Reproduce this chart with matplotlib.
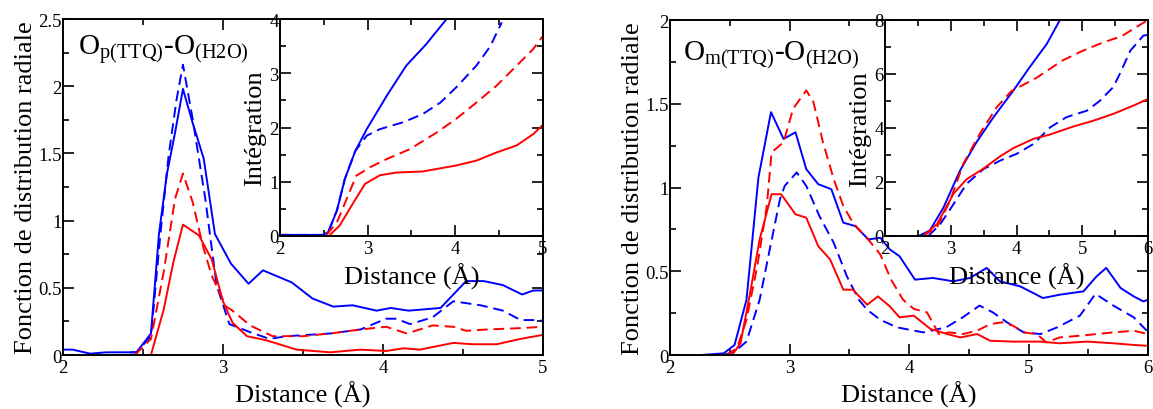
import matplotlib
matplotlib.use("Agg")
import matplotlib.pyplot as plt
from matplotlib.ticker import MultipleLocator, FormatStrFormatter

plt.rcParams['font.family'] = ['Liberation Serif', 'DejaVu Serif']
plt.rcParams['mathtext.fontset'] = 'custom'
plt.rcParams['mathtext.rm'] = 'Liberation Serif'
plt.rcParams['mathtext.it'] = 'Liberation Serif:italic'

BLUE = '#0000ff'
RED = '#ff0000'

# --- left panel: O_p(TTQ) - O_(H2O), radial distribution ---
x_L_bs = [2.0, 2.06, 2.17, 2.27, 2.42, 2.46, 2.55, 2.6, 2.65, 2.7, 2.75, 2.81, 2.88, 2.95, 3.05, 3.16,
          3.25, 3.43, 3.56, 3.69, 3.81, 3.96, 4.05, 4.16, 4.36, 4.52, 4.63, 4.75, 4.87, 4.94, 5.0]
y_L_bs = [0.04, 0.04, 0.01, 0.02, 0.02, 0.02, 0.16, 0.9, 1.35, 1.65, 1.98, 1.73, 1.46, 0.9, 0.68, 0.53,
          0.63, 0.54, 0.42, 0.36, 0.37, 0.33, 0.35, 0.33, 0.35, 0.55, 0.55, 0.52, 0.45, 0.48, 0.48]
x_L_bd = [2.42, 2.46, 2.55, 2.61, 2.66, 2.71, 2.75, 2.81, 2.89, 2.96, 3.04, 3.17, 3.29, 3.40, 3.67,
          3.86, 4.02, 4.08, 4.17, 4.31, 4.44, 4.61, 4.75, 4.86, 4.98, 5.0]
y_L_bd = [0.02, 0.02, 0.14, 0.91, 1.48, 1.9, 2.16, 1.76, 1.16, 0.52, 0.23, 0.17, 0.12, 0.14, 0.16,
          0.19, 0.27, 0.27, 0.23, 0.28, 0.40, 0.37, 0.33, 0.26, 0.26, 0.25]
x_L_rd = [2.45, 2.55, 2.63, 2.70, 2.75, 2.81, 2.875, 2.93, 3.02, 3.06, 3.17, 3.31, 3.50, 3.67, 3.86,
          4.02, 4.15, 4.31, 4.44, 4.52, 4.65, 4.86, 5.0]
y_L_rd = [0.0, 0.12, 0.62, 1.16, 1.35, 1.14, 0.81, 0.59, 0.36, 0.33, 0.22, 0.14, 0.14, 0.16, 0.19,
          0.21, 0.16, 0.22, 0.21, 0.18, 0.19, 0.20, 0.21]
x_L_rs = [2.55, 2.63, 2.69, 2.75, 2.85, 2.93, 3.0, 3.06, 3.15, 3.27, 3.46, 3.67, 3.86, 4.02, 4.13,
          4.23, 4.44, 4.56, 4.71, 4.86, 5.0]
y_L_rs = [0.0, 0.34, 0.69, 0.97, 0.89, 0.71, 0.4, 0.24, 0.14, 0.11, 0.04, 0.02, 0.04, 0.03, 0.05,
          0.04, 0.09, 0.08, 0.08, 0.12, 0.15]

# left inset: integration
xi_L_bs = [2.0, 2.49, 2.55, 2.65, 2.74, 2.86, 2.99, 3.22, 3.44, 3.67, 3.9]
yi_L_bs = [0.02, 0.02, 0.07, 0.47, 1.05, 1.57, 1.97, 2.59, 3.14, 3.54, 4.0]
xi_L_bd = [2.0, 2.49, 2.55, 2.65, 2.74, 2.86, 2.99, 3.14, 3.41, 3.63, 3.83, 4.01, 4.24, 4.4, 4.53]
yi_L_bd = [0.02, 0.02, 0.07, 0.47, 1.05, 1.57, 1.85, 1.97, 2.10, 2.25, 2.46, 2.74, 3.14, 3.5, 3.94]
xi_L_rd = [2.53, 2.65, 2.76, 2.87, 3.03, 3.22, 3.48, 3.79, 4.01, 4.24, 4.47, 4.7, 4.89, 5.0]
yi_L_rd = [0.02, 0.25, 0.68, 1.11, 1.27, 1.42, 1.6, 1.91, 2.16, 2.46, 2.77, 3.14, 3.45, 3.69]
xi_L_rs = [2.57, 2.68, 2.84, 2.97, 3.14, 3.33, 3.63, 4.01, 4.24, 4.47, 4.7, 4.89, 5.0]
yi_L_rs = [0.02, 0.19, 0.62, 0.96, 1.12, 1.17, 1.19, 1.30, 1.39, 1.54, 1.67, 1.88, 2.05]

# --- right panel: O_m(TTQ) - O_(H2O) ---
x_R_bs = [2.265, 2.45, 2.54, 2.64, 2.74, 2.845, 2.95, 3.05, 3.14, 3.24, 3.35, 3.45, 3.55, 3.66, 3.76,
          3.84, 3.92, 4.05, 4.2, 4.37, 4.51, 4.65, 4.76, 4.93, 5.04, 5.12, 5.26, 5.46, 5.57, 5.65,
          5.77, 5.88, 5.96, 6.0]
y_R_bs = [0.0, 0.01, 0.06, 0.33, 1.06, 1.45, 1.29, 1.33, 1.11, 1.02, 0.99, 0.79, 0.77, 0.69, 0.70,
          0.63, 0.59, 0.45, 0.46, 0.44, 0.46, 0.52, 0.44, 0.41, 0.37, 0.34, 0.36, 0.38, 0.47, 0.52,
          0.40, 0.35, 0.32, 0.33]
x_R_bd = [2.45, 2.54, 2.64, 2.75, 2.84, 2.92, 2.96, 3.06, 3.14, 3.25, 3.37, 3.48, 3.58, 3.65, 3.76,
          3.9, 4.12, 4.31, 4.45, 4.59, 4.7, 4.82, 4.96, 5.1, 5.24, 5.43, 5.56, 5.71, 5.88, 5.99]
y_R_bd = [0.0, 0.02, 0.08, 0.33, 0.65, 0.93, 1.01, 1.09, 1.01, 0.83, 0.67, 0.47, 0.33, 0.27, 0.21,
          0.165, 0.135, 0.165, 0.225, 0.295, 0.255, 0.195, 0.135, 0.125, 0.165, 0.235, 0.365, 0.295,
          0.225, 0.145]
x_R_rd = [2.47, 2.56, 2.64, 2.73, 2.81, 2.85, 2.95, 3.03, 3.14, 3.2, 3.28, 3.37, 3.45, 3.53, 3.67,
          3.76, 3.85, 3.95, 4.04, 4.15, 4.25, 4.34, 4.45, 4.57, 4.68, 4.78, 4.87, 4.96, 5.07, 5.15,
          5.26, 5.43, 5.71, 5.88, 6.0]
y_R_rd = [0.0, 0.04, 0.21, 0.53, 0.89, 1.21, 1.27, 1.47, 1.58, 1.51, 1.27, 1.05, 0.89, 0.79, 0.68,
          0.6, 0.45, 0.33, 0.275, 0.255, 0.125, 0.135, 0.125, 0.145, 0.185, 0.195, 0.175, 0.135,
          0.125, 0.075, 0.105, 0.115, 0.135, 0.145, 0.125]
x_R_rs = [2.52, 2.59, 2.67, 2.75, 2.85, 2.93, 3.05, 3.14, 3.24, 3.34, 3.45, 3.53, 3.65, 3.74, 3.84,
          3.92, 4.04, 4.18, 4.32, 4.43, 4.57, 4.68, 4.87, 5.1, 5.26, 5.49, 5.71, 5.88, 6.0]
y_R_rs = [0.0, 0.07, 0.37, 0.69, 0.96, 0.96, 0.84, 0.82, 0.65, 0.57, 0.39, 0.39, 0.3, 0.35, 0.29,
          0.225, 0.235, 0.155, 0.125, 0.105, 0.125, 0.085, 0.08, 0.08, 0.07, 0.08, 0.07, 0.06, 0.055]

# right inset: integration
xi_R_bs = [2.51, 2.68, 2.89, 3.14, 3.39, 3.65, 3.95, 4.2, 4.46, 4.66]
yi_R_bs = [0.0, 0.2, 1.06, 2.42, 3.47, 4.4, 5.38, 6.25, 7.11, 8.0]
xi_R_rd = [2.58, 2.79, 2.99, 3.19, 3.44, 3.7, 3.92, 4.3, 4.7, 5.0, 5.3, 5.6, 6.0]
yi_R_rd = [0.0, 0.32, 1.31, 2.67, 3.78, 4.77, 5.36, 5.85, 6.5, 6.85, 7.15, 7.4, 8.0]
xi_R_rs = [2.58, 2.79, 3.04, 3.24, 3.5, 3.75, 3.95, 4.26, 4.5, 4.86, 5.17, 5.47, 5.78, 6.0]
yi_R_rs = [0.0, 0.44, 1.56, 2.1, 2.5, 2.95, 3.25, 3.6, 3.75, 4.05, 4.27, 4.52, 4.83, 5.07]
xi_R_bd = [2.66, 2.84, 3.01, 3.24, 3.5, 3.75, 4.0, 4.26, 4.51, 4.76, 5.07, 5.27, 5.47, 5.57, 5.73,
           5.93, 6.0]
yi_R_bd = [0.0, 0.44, 1.06, 1.93, 2.48, 2.79, 3.04, 3.41, 4.02, 4.4, 4.64, 5.01, 5.51, 6.0, 6.86,
           7.42, 7.45]

LW = 1.4
TICK_FS = 13.5
LABEL_FS = 19


def style(ax, xlim, ylim, xmaj, xmin, ymaj, ymin):
    ax.set_xlim(*xlim)
    ax.set_ylim(*ylim)
    ax.xaxis.set_major_locator(MultipleLocator(xmaj))
    ax.xaxis.set_minor_locator(MultipleLocator(xmin))
    ax.yaxis.set_major_locator(MultipleLocator(ymaj))
    ax.yaxis.set_minor_locator(MultipleLocator(ymin))
    ax.xaxis.set_major_formatter(FormatStrFormatter('%g'))
    ax.yaxis.set_major_formatter(FormatStrFormatter('%g'))
    ax.tick_params(which='both', direction='in', top=True, right=True, width=1.2)
    ax.tick_params(which='major', length=8, labelsize=TICK_FS)
    ax.tick_params(axis='y', which='major', pad=1)
    ax.tick_params(axis='x', which='major', pad=3)
    ax.tick_params(which='minor', length=4)
    for s in ax.spines.values():
        s.set_linewidth(1.4)


def draw(ax, series):
    for x, y, c, ls in series:
        if ls == '--':
            ax.plot(x, y, color=c, lw=LW, dashes=(5.5, 3))
        else:
            ax.plot(x, y, color=c, lw=LW)


fig = plt.figure(figsize=(11.53, 4.10), dpi=100)

axL = fig.add_axes([0.0546, 0.1317, 0.4163, 0.8195])
draw(axL, [(x_L_bs, y_L_bs, BLUE, '-'), (x_L_bd, y_L_bd, BLUE, '--'),
           (x_L_rd, y_L_rd, RED, '--'), (x_L_rs, y_L_rs, RED, '-')])
style(axL, (2, 5), (0, 2.5), 1, 0.5, 0.5, 0.25)
axL.set_xlabel('Distance (Å)', fontsize=LABEL_FS, labelpad=3)
axL.set_ylabel('Fonction de distribution radiale', fontsize=LABEL_FS, labelpad=1)
axL.text(0.031, 0.896, r'$\mathrm{O_{p(TTQ)}}$-$\mathrm{O_{(H2O)}}$', transform=axL.transAxes,
         fontsize=21, va='baseline', ha='left')

axLi = fig.add_axes([0.2428, 0.422, 0.2281, 0.529])
draw(axLi, [(xi_L_bs, yi_L_bs, BLUE, '-'), (xi_L_bd, yi_L_bd, BLUE, '--'),
            (xi_L_rd, yi_L_rd, RED, '--'), (xi_L_rs, yi_L_rs, RED, '-')])
style(axLi, (2, 5), (0, 4), 1, 0.5, 1, 0.5)
axLi.set_xlabel('Distance (Å)', fontsize=LABEL_FS, labelpad=4)
axLi.set_ylabel('Intégration', fontsize=LABEL_FS, labelpad=2)

axR = fig.add_axes([0.5811, 0.1317, 0.4146, 0.817])
draw(axR, [(x_R_bs, y_R_bs, BLUE, '-'), (x_R_bd, y_R_bd, BLUE, '--'),
           (x_R_rd, y_R_rd, RED, '--'), (x_R_rs, y_R_rs, RED, '-')])
style(axR, (2, 6), (0, 2), 1, 0.5, 0.5, 0.25)
axR.set_xlabel('Distance (Å)', fontsize=LABEL_FS, labelpad=3)
axR.set_ylabel('Fonction de distribution radiale', fontsize=LABEL_FS, labelpad=1)
axR.text(0.027, 0.884, r'$\mathrm{O_{m(TTQ)}}$-$\mathrm{O_{(H2O)}}$', transform=axR.transAxes,
         fontsize=21, va='baseline', ha='left')

axRi = fig.add_axes([0.7676, 0.422, 0.2281, 0.527])
draw(axRi, [(xi_R_bs, yi_R_bs, BLUE, '-'), (xi_R_bd, yi_R_bd, BLUE, '--'),
            (xi_R_rd, yi_R_rd, RED, '--'), (xi_R_rs, yi_R_rs, RED, '-')])
style(axRi, (2, 6), (0, 8), 1, 0.5, 2, 1)
axRi.set_xlabel('Distance (Å)', fontsize=LABEL_FS, labelpad=4)
axRi.set_ylabel('Intégration', fontsize=LABEL_FS, labelpad=2)

fig.savefig('out.png', dpi=100)
